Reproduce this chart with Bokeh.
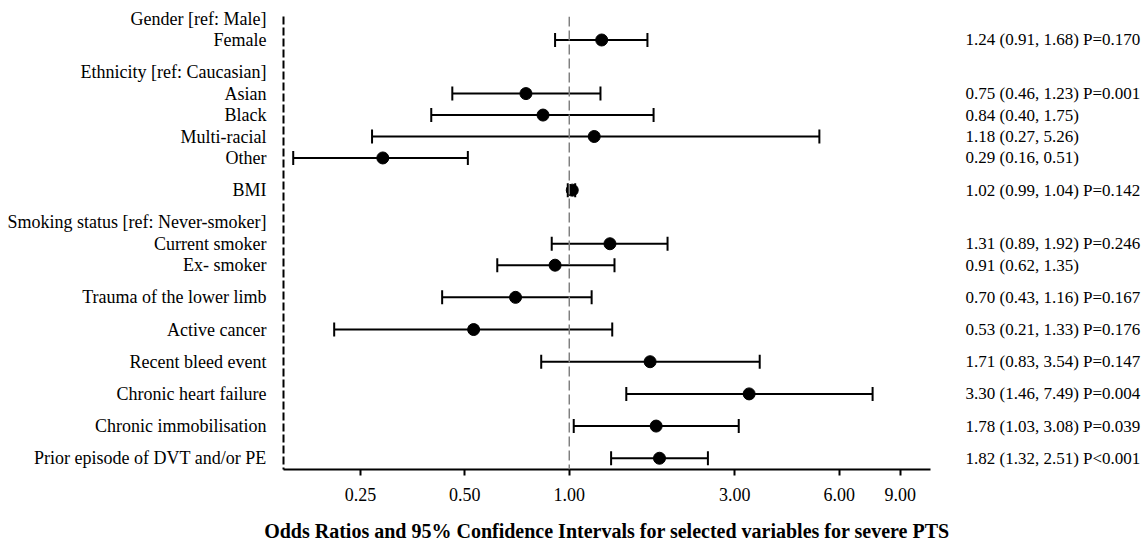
from bokeh.plotting import figure
from bokeh.models import (ColumnDataSource, Range1d, FixedTicker, NumeralTickFormatter,
                          Whisker, TeeHead, Span, LinearAxis)
from bokeh.embed import file_html
from bokeh.resources import INLINE

# ---- data ----
row_labels = ["Gender [ref: Male]", "Female",
              "Ethnicity [ref: Caucasian]", "Asian", "Black", "Multi-racial", "Other",
              "BMI",
              "Smoking status [ref: Never-smoker]", "Current smoker", "Ex- smoker",
              "Trauma of the lower limb", "Active cancer", "Recent bleed event",
              "Chronic heart failure", "Chronic immobilisation",
              "Prior episode of DVT and/or PE"]
group_starts = ["Ethnicity [ref: Caucasian]", "BMI", "Smoking status [ref: Never-smoker]",
                "Trauma of the lower limb", "Active cancer", "Recent bleed event",
                "Chronic heart failure", "Chronic immobilisation",
                "Prior episode of DVT and/or PE"]

variables = ["Female", "Asian", "Black", "Multi-racial", "Other", "BMI",
             "Current smoker", "Ex- smoker", "Trauma of the lower limb", "Active cancer",
             "Recent bleed event", "Chronic heart failure", "Chronic immobilisation",
             "Prior episode of DVT and/or PE"]
odds_ratio = [1.24, 0.75, 0.84, 1.18, 0.29, 1.02, 1.31, 0.91, 0.70, 0.53, 1.71, 3.30, 1.78, 1.82]
ci_lower = [0.91, 0.46, 0.40, 0.27, 0.16, 0.99, 0.89, 0.62, 0.43, 0.21, 0.83, 1.46, 1.03, 1.32]
ci_upper = [1.68, 1.23, 1.75, 5.26, 0.51, 1.04, 1.92, 1.35, 1.16, 1.33, 3.54, 7.49, 3.08, 2.51]
p_values = ["P=0.170", "P=0.001", "", "", "", "P=0.142", "P=0.246", "", "P=0.167",
            "P=0.176", "P=0.147", "P=0.004", "P=0.039", "P<0.001"]
x_ticks = [0.25, 0.5, 1, 3, 6, 9]
title_text = "Odds Ratios and 95% Confidence Intervals for selected variables for severe PTS"

# ---- layout of rows (half-row units, extra gap before each group) ----
positions = {}
cur = 0
for i, lab in enumerate(row_labels):
    if i > 0:
        cur += 3 if lab in group_starts else 2
    positions[lab] = cur

ys = [positions[v] for v in variables]
ann = [f"{o:.2f} ({l:.2f}, {u:.2f})" + (f" {p}" if p else "")
       for o, l, u, p in zip(odds_ratio, ci_lower, ci_upper, p_values)]

src = ColumnDataSource(dict(y=ys, orr=odds_ratio, lower=ci_lower, upper=ci_upper))

FONT = "Liberation Serif"

p = figure(width=1146, height=544, x_axis_type="log",
           x_range=Range1d(0.15, 11.0), y_range=Range1d(42.05, -0.19),
           output_backend="svg", toolbar_location=None,
           min_border_left=283, min_border_right=216, min_border_top=16, min_border_bottom=74)
p.outline_line_color = None
p.xgrid.visible = False
p.ygrid.visible = False
p.background_fill_color = "white"
p.border_fill_color = "white"

# reference line at OR = 1
p.add_layout(Span(location=1, dimension="height", line_color="#808080",
                  line_dash="10 4", line_width=1.5))

# confidence intervals
p.add_layout(Whisker(source=src, base="y", lower="lower", upper="upper", dimension="width",
                     line_color="black", line_width=2,
                     lower_head=TeeHead(size=14, line_color="black", line_width=2),
                     upper_head=TeeHead(size=14, line_color="black", line_width=2)))

# point estimates
p.scatter(x="orr", y="y", source=src, size=12, color="black")

# x axis
xa = p.xaxis[0]
xa.ticker = FixedTicker(ticks=x_ticks, minor_ticks=[])
xa.formatter = NumeralTickFormatter(format="0.00")
xa.axis_line_color = "black"
xa.axis_line_width = 2
xa.major_tick_line_color = "black"
xa.major_tick_line_width = 2
xa.major_tick_in = 0
xa.major_tick_out = 6
xa.minor_tick_line_color = None
xa.major_label_text_font = FONT
xa.major_label_text_font_size = "18px"
xa.major_label_text_color = "black"
xa.major_label_standoff = 12
xa.axis_label = title_text
xa.axis_label_text_font = FONT
xa.axis_label_text_font_style = "bold"
xa.axis_label_text_font_size = "20px"
xa.axis_label_text_color = "black"
xa.axis_label_standoff = 16

# y axis (row labels)
ya = p.yaxis[0]
ya.ticker = FixedTicker(ticks=[positions[l] for l in row_labels], minor_ticks=[])
ya.major_label_overrides = {positions[l]: l for l in row_labels}
ya.axis_line_color = "black"
ya.axis_line_width = 2
ya.axis_line_dash = "8 3"
ya.major_tick_line_color = None
ya.minor_tick_line_color = None
ya.major_label_text_font = FONT
ya.major_label_text_font_size = "18px"
ya.major_label_text_color = "black"
ya.major_label_standoff = 11

# right axis (OR, CI and P annotations)
ra = LinearAxis(ticker=FixedTicker(ticks=ys, minor_ticks=[]),
                major_label_overrides={y: t for y, t in zip(ys, ann)})
ra.axis_line_color = None
ra.major_tick_line_color = None
ra.minor_tick_line_color = None
ra.major_label_text_font = FONT
ra.major_label_text_font_size = "17px"
ra.major_label_text_color = "black"
ra.major_label_standoff = 29
p.add_layout(ra, "right")

open("out.html", "w").write(file_html(p, INLINE))
